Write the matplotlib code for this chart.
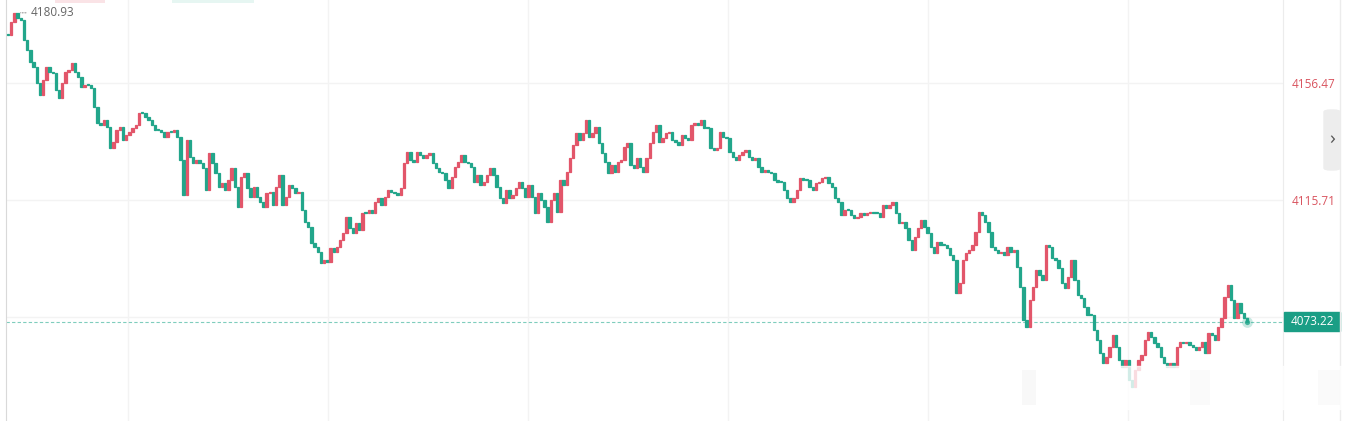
import matplotlib
matplotlib.use("Agg")
import matplotlib.pyplot as plt
import matplotlib.transforms as mtransforms
from matplotlib.patches import Rectangle, FancyBboxPatch
import numpy as np

plt.rcParams['font.family'] = ['Open Sans', 'DejaVu Sans']

# close prices, left to right
seg_a = [4173.2, 4177.7, 4180.9, 4179.1, 4178.4, 4171.5, 4168.0, 4163.8, 4162.0, 4156.5,
         4152.3, 4157.5, 4162.0, 4160.3, 4160.0, 4154.0, 4151.3, 4156.5, 4160.3, 4161.0,
         4163.5, 4160.3, 4158.6, 4155.1, 4155.8, 4155.8, 4154.7, 4148.1, 4142.5, 4141.8,
         4143.6, 4141.1, 4133.8, 4135.9, 4140.1, 4141.1, 4136.6, 4138.4, 4139.4, 4140.8,
         4141.8, 4146.0, 4146.0, 4144.6, 4143.6, 4141.8, 4140.1, 4140.1, 4139.4, 4137.7,
         4139.4, 4139.4, 4140.1, 4137.7, 4129.6, 4117.5, 4136.6, 4130.7, 4128.6, 4129.6,
         4128.6, 4126.9, 4119.2, 4132.1]
seg_b = [4128.6, 4125.1, 4120.2, 4121.6, 4119.2, 4122.7, 4126.9, 4120.2, 4113.3, 4123.7,
         4125.1, 4119.9, 4116.8, 4120.2, 4116.8, 4115.0, 4113.3, 4118.2, 4118.5, 4114.0,
         4120.2, 4124.4, 4114.0, 4116.8, 4120.9, 4119.9, 4118.2, 4118.5, 4112.2, 4108.1,
         4106.3, 4100.7, 4099.3, 4097.6, 4093.8, 4094.8, 4094.1, 4099.0, 4097.6, 4099.3,
         4101.8, 4104.2, 4109.8, 4106.0, 4104.2, 4107.7, 4105.3, 4111.2, 4111.2, 4112.2,
         4111.2, 4115.0, 4116.4, 4114.0, 4116.8, 4119.2, 4118.5, 4118.2, 4117.5, 4119.9,
         4128.6]
seg_c = [4132.4, 4129.6, 4128.9, 4132.4, 4131.4, 4130.4, 4131.4, 4132.1, 4128.6, 4126.9,
         4125.5, 4125.1, 4122.7, 4119.9, 4123.7, 4127.2, 4128.9, 4131.4, 4128.9, 4128.6,
         4127.2, 4122.0, 4124.4, 4120.9, 4122.0, 4124.4, 4126.9, 4124.4, 4120.2, 4116.4,
         4114.7, 4119.2, 4116.4, 4117.5, 4119.9, 4122.0, 4119.9, 4116.8, 4120.9, 4116.8,
         4111.2, 4118.2, 4115.7, 4113.3, 4108.1, 4115.7, 4118.2, 4111.5, 4122.7, 4120.9,
         4125.5, 4130.4, 4134.9, 4139.1, 4136.6, 4139.1, 4143.6, 4137.7, 4139.1, 4141.1,
         4135.6]
seg_d = [4132.1, 4128.9, 4125.1, 4127.9, 4125.5, 4128.9, 4129.6, 4134.2, 4135.6, 4127.9,
         4126.9, 4130.4, 4127.2, 4125.5, 4130.4, 4135.6, 4139.4, 4141.8, 4135.9, 4137.3,
         4139.1, 4139.4, 4136.6, 4135.9, 4134.9, 4138.4, 4137.3, 4136.6, 4141.8, 4142.5,
         4141.8, 4143.6, 4140.8, 4140.8, 4133.8, 4133.1, 4133.8, 4139.4, 4137.7, 4137.3,
         4132.4, 4130.7, 4129.6, 4131.4, 4132.4, 4133.1, 4130.7, 4129.6, 4130.4, 4127.2,
         4125.5, 4126.2, 4125.5, 4125.1, 4122.7, 4122.0, 4122.0, 4119.2, 4116.4, 4115.0,
         4116.4, 4119.2, 4123.4, 4122.7]
seg_e = [4122.7, 4120.2, 4119.2, 4121.6, 4122.0, 4123.4, 4123.7, 4121.6, 4120.2, 4116.4,
         4115.0, 4110.5, 4112.2, 4112.2, 4110.5, 4109.4, 4109.8, 4111.2, 4110.5, 4111.2,
         4111.5, 4111.2, 4111.2, 4109.8, 4114.0, 4112.9, 4114.0, 4115.0, 4111.2, 4107.7,
         4108.1, 4106.0, 4101.8, 4098.3, 4102.8, 4106.0, 4108.7, 4106.3, 4104.2, 4099.3,
         4097.2, 4101.1, 4100.0, 4100.0, 4099.0, 4096.5, 4094.8, 4083.3, 4086.8, 4094.8,
         4097.2, 4098.3, 4100.0, 4104.6, 4111.5, 4110.5, 4108.1, 4104.6, 4099.3, 4098.3,
         4097.2, 4097.6]
seg_f = [4096.5, 4099.3, 4097.6, 4098.3, 4092.4, 4085.4, 4073.9, 4071.5, 4080.9, 4085.4,
         4091.3, 4089.6, 4087.8, 4100.0, 4099.3, 4095.5, 4094.8, 4092.0, 4086.8, 4085.1,
         4088.9, 4094.8, 4087.8, 4082.6, 4081.6, 4078.4, 4075.6, 4075.6, 4070.4, 4066.9,
         4062.4, 4058.9, 4061.0, 4064.5, 4068.7, 4064.5, 4060.0, 4057.5, 4060.0, 4053.0,
         4050.6, 4056.5, 4060.0, 4061.7, 4066.9, 4069.7, 4068.0, 4065.9, 4064.5, 4061.0,
         4058.9, 4057.5, 4058.9, 4057.5, 4064.5, 4066.2, 4065.9, 4066.2, 4065.2, 4064.5,
         4063.5, 4064.5, 4066.2, 4062.4, 4069.4, 4068.7, 4066.9, 4071.5, 4074.6, 4081.9,
         4086.1, 4080.9, 4074.6, 4079.8, 4076.3, 4074.6, 4073.22]

closes = np.array(seg_a + seg_b + seg_c + seg_d + seg_e + seg_f)
last_price = 4073.22
max_price = 4180.93
tick_prices = [4156.47, 4115.71, 4074.95]
tick_labels = ['4156.47', '4115.71', '']
bottom_label = '4034.19'

UP = '#e2566a'
DOWN = '#22a68b'

opens = np.concatenate([[closes[0]], closes[:-1]])
x = np.arange(len(closes))
colors = [UP if c > o else DOWN for o, c in zip(opens, closes)]
bottoms = np.minimum(opens, closes)
heights = np.maximum(np.abs(closes - opens), 0.45)

W, H = 1346, 421
fig = plt.figure(figsize=(W / 100, H / 100), dpi=100)
left_px, right_px = 6, 1283
ax = fig.add_axes([left_px / W, 0, (right_px - left_px) / W, 1])

# candle spacing so first candle sits at x=8px and last at x=1247px
step = (1247 - 8) / (len(closes) - 1)
ax.set_xlim(-(8 - left_px) / step, len(closes) - 1 + (right_px - 1247) / step)
ax.set_ylim(4185.39 - 0.3484 * H, 4185.39)

ax.bar(x, heights, bottom=bottoms, width=0.75, color=colors, edgecolor=colors,
       linewidth=0.9, zorder=3)

# grid
for gx in 37.6 + np.arange(6) * (200 / step):
    ax.axvline(gx, color='#f3f3f3', lw=1, zorder=0)
for tp in tick_prices:
    ax.axhline(tp, color='#f3f3f3', lw=1, zorder=0)

# last price dashed line
ax.axhline(last_price, color='#7fcdbd', lw=0.8, ls=(0, (3, 2)), zorder=2)
ax.scatter([x[-1]], [last_price], s=60, color=DOWN, alpha=0.25, zorder=4, linewidths=0)
ax.scatter([x[-1]], [last_price], s=14, color=DOWN, alpha=0.8, zorder=4, linewidths=0)

for s in ax.spines.values():
    s.set_visible(False)
ax.spines['left'].set_visible(True)
ax.spines['left'].set_color('#d9d9d9')
ax.spines['right'].set_visible(True)
ax.spines['right'].set_color('#ececec')
ax.set_xticks([])
ax.yaxis.tick_right()
ax.set_yticks(tick_prices)
ax.set_yticklabels(tick_labels)
ax.tick_params(axis='y', length=0, pad=6, labelsize=8.5, labelcolor='#d9545f')

blend = mtransforms.blended_transform_factory(ax.transAxes, ax.transData)
axw = right_px - left_px

# current price tag
box_h = 19 * 0.3484
ax.add_patch(Rectangle((1.0 + 1 / axw, last_price - box_h / 2), 56 / axw, box_h,
                       transform=blend, color='#1a9e85', clip_on=False, zorder=10))
ax.text(1.0 + 29 / axw, last_price, '4073.22', transform=blend, color='white',
        fontsize=8.5, ha='center', va='center', zorder=11, clip_on=False)
ax.text(1.0 + 7 / axw, 4185.39 - 0.3484 * 426, bottom_label, transform=blend,
        color='#1a9e85', fontsize=8.5, ha='left', va='center', clip_on=False)

# max price label
imax = int(np.argmax(closes))
ax.annotate('', xy=(imax + 1, max_price), xytext=(imax + 4.5, max_price),
            arrowprops=dict(arrowstyle='-', color='#999999', lw=0.8, ls=(0, (1, 1.5))))
ax.text(imax + 5, max_price, '4180.93', color='#666666', fontsize=8.5, va='center', ha='left')

# watermark area at bottom right
fig.patches.append(Rectangle((1012 / W, (H - 409) / H), (W - 1012) / W, 43 / H,
                             transform=fig.transFigure, color='white', alpha=0.8, zorder=20))
for bx, bw, c in [(1022, 14, '#dcdcdc'), (1190, 20, '#e8e8e8'), (1318, 22, '#e6e6e6')]:
    fig.patches.append(Rectangle((bx / W, (H - 405) / H), bw / W, 35 / H,
                                 transform=fig.transFigure, color=c, alpha=0.2, zorder=21, lw=0))

# right edge line and collapse button
fig.add_artist(plt.Line2D([1340 / W, 1340 / W], [0, 1], transform=fig.transFigure,
                          color='#ececec', lw=1))
fig.patches.append(FancyBboxPatch((1324 / W, (H - 170) / H), 16 / W, 60 / H,
                                  boxstyle='round,pad=0,rounding_size=0.005',
                                  transform=fig.transFigure, color='#ededed', zorder=5))
fig.text(1332 / W, (H - 139) / H, '\u203a', color='#555555', fontsize=14,
         ha='center', va='center', zorder=6)

# faint blobs at top edge
fig.patches.append(Rectangle((55 / W, (H - 3) / H), 50 / W, 3 / H, transform=fig.transFigure,
                             color='#f6c9cf', alpha=0.5, lw=0))
fig.patches.append(Rectangle((172 / W, (H - 3) / H), 82 / W, 3 / H, transform=fig.transFigure,
                             color='#cfeee6', alpha=0.5, lw=0))

fig.savefig('out.png', dpi=100)
